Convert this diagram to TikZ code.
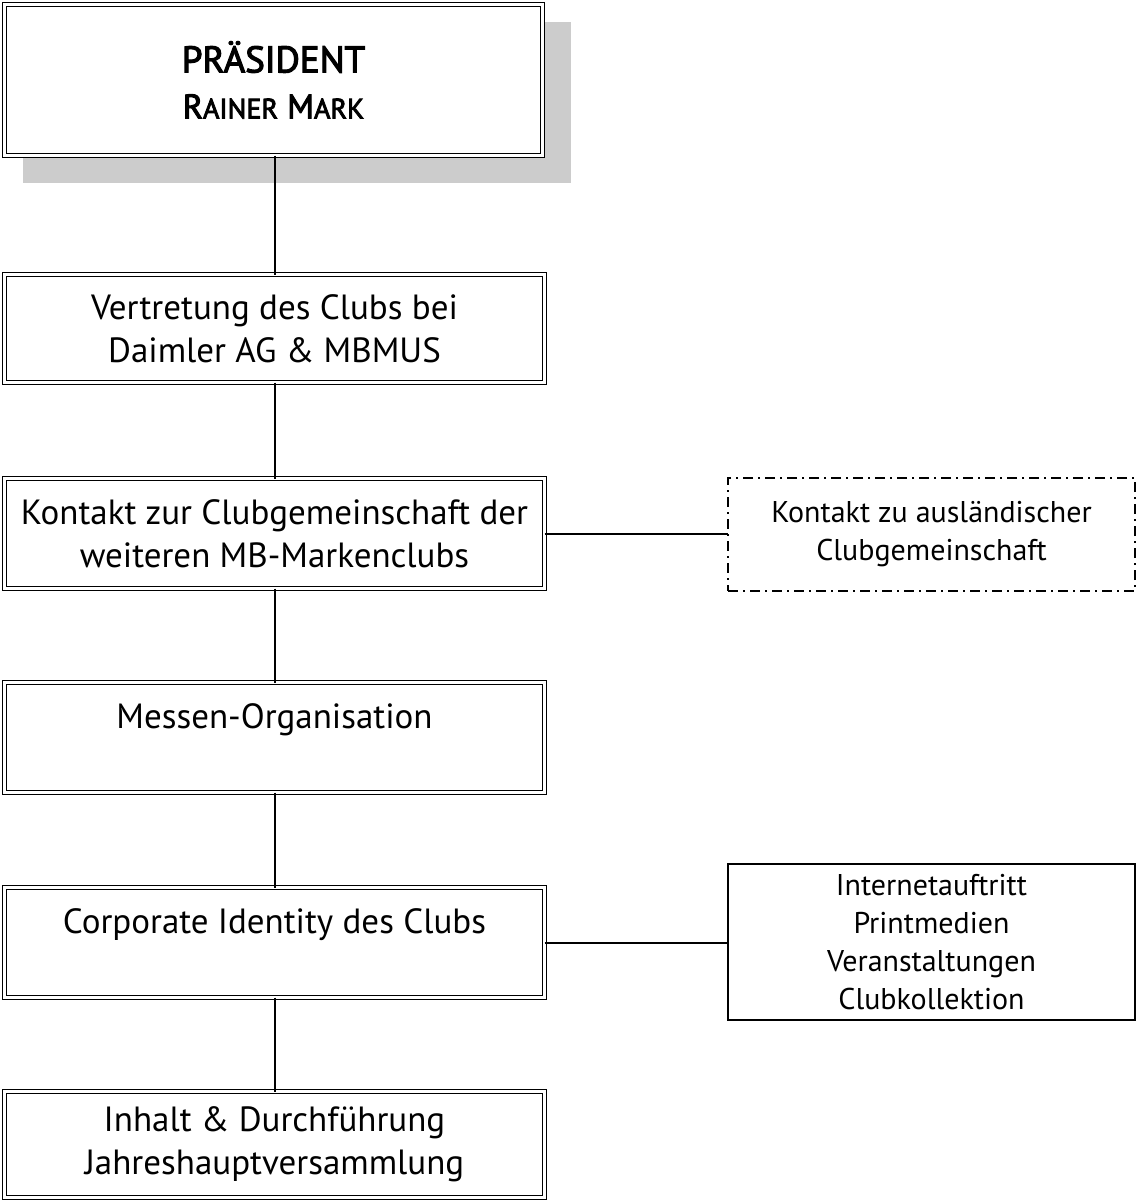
\documentclass[tikz,border=0pt]{standalone}
\usepackage{fontspec}
\setmainfont{PT Sans}
\newfontfamily\headfont{PT Sans}[FakeBold=3]
\begin{document}
\begin{tikzpicture}[x=1pt,y=-1pt,
  dbox/.style={draw, double, line width=1.5pt, double distance=2.4pt, inner sep=0pt, outer sep=0pt, align=center, font=\fontsize{35}{43}\selectfont},
  sbox/.style={draw, line width=1.8pt, inner sep=0pt, outer sep=0pt, align=center, font=\fontsize{30}{38}\selectfont},
  dashdot/.style={dash pattern=on 10pt off 5pt on 2pt off 5pt},
  conn/.style={line width=2pt}]
\useasboundingbox (0,0) rectangle (1137,1202);
\node[fill=black!20, inner sep=0pt, minimum width=548pt, minimum height=161pt] (shadow) at (297,102.5) {};
\node[dbox, fill=white, minimum width=538pt, minimum height=151pt] (B1) at (273.5,80)
  {{\headfont\fontsize{37}{46}\selectfont PRÄSIDENT}\\[3pt]{\headfont\fontsize{34}{36}\selectfont R{\fontsize{28}{36}\selectfont AINER} M{\fontsize{28}{36}\selectfont ARK}}};
\node[dbox, minimum width=540pt, minimum height=108pt] (B2) at (274.5,328.5) {Vertretung des Clubs bei\\Daimler AG \& MBMUS};
\node[dbox, minimum width=540pt, minimum height=110pt] (B3) at (274.5,533.5) {Kontakt zur Clubgemeinschaft der\\weiteren MB-Markenclubs};
\node[dbox, minimum width=540pt, minimum height=110pt] (B4) at (274.5,737.5) {Messen-Organisation\\\mbox{}};
\node[dbox, minimum width=540pt, minimum height=110pt] (B5) at (274.5,942.5) {Corporate Identity des Clubs\\\mbox{}};
\node[dbox, minimum width=540pt, minimum height=106pt] (B6) at (274.5,1144.5) {Inhalt \& Durchführung\\Jahreshauptversammlung};
\node[sbox, dashdot, minimum width=407pt, minimum height=113pt] (D) at (931.5,534.5) {Kontakt zu ausländischer\\Clubgemeinschaft};
\node[sbox, minimum width=407pt, minimum height=156pt] (R) at (931.5,942) {Internetauftritt\\Printmedien\\Veranstaltungen\\Clubkollektion};
\draw[conn] (B2.north |- B1.south) -- (B2.north);
\draw[conn] (B2.south) -- (B3.north);
\draw[conn] (B3.south) -- (B4.north);
\draw[conn] (B4.south) -- (B5.north);
\draw[conn] (B5.south) -- (B6.north);
\draw[conn] (B3.east) -- (B3.east -| D.west);
\draw[conn] (B5.east) -- (B5.east -| R.west);
\end{tikzpicture}
\end{document}
